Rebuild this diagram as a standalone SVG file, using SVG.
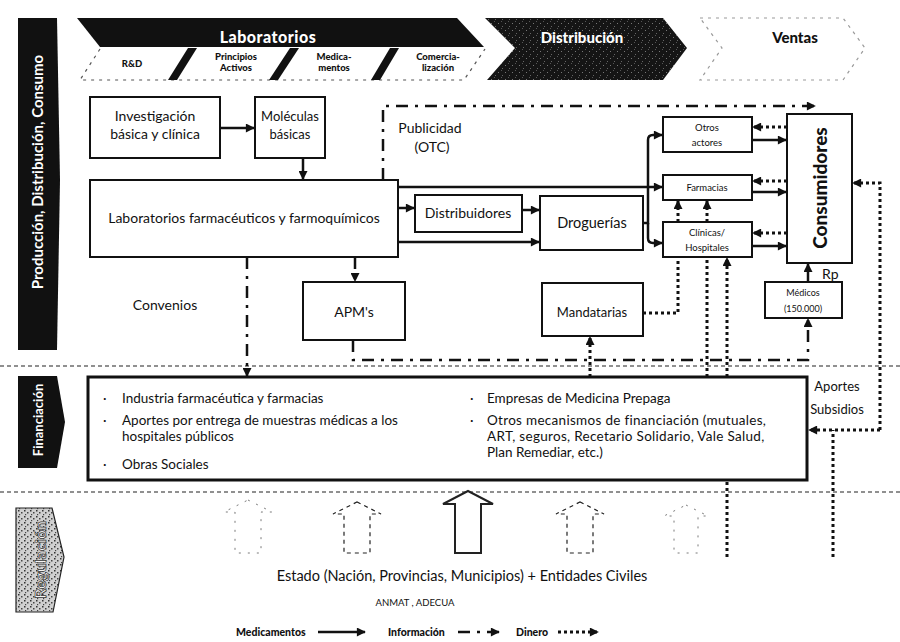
<svg xmlns="http://www.w3.org/2000/svg" width="900" height="642" viewBox="0 0 900 642">
  <defs>
    <style>
      text { font-family: Lato, "Open Sans", "DejaVu Sans", sans-serif; fill: #111; }
      .box { fill: #fff; stroke: #111; stroke-width: 2; }
      .t13 { font-size: 14px; text-anchor: middle; }
      .t12 { font-size: 13.5px; }
      .t9 { font-size: 9.5px; text-anchor: middle; }
      .hdr { font-weight: 900; }
      .sub { font-size: 9.5px; font-weight: 900; text-anchor: middle; }
      .side { font-size: 13px; font-weight: 700; fill: #fff; text-anchor: middle; }
      .med { fill: none; stroke: #111; stroke-width: 2.5; }
      .info { fill: none; stroke: #111; stroke-width: 2.5; stroke-dasharray: 12 7 3 7; }
      .din { fill: none; stroke: #111; stroke-width: 3; stroke-dasharray: 3 3; }
      .sep { fill: none; stroke: #222; stroke-width: 1.2; stroke-dasharray: 4 3; }
      .ghost { fill: none; stroke: #555; stroke-width: 1.2; stroke-dasharray: 3 5; }
      .up { fill: none; stroke: #222; }
    </style>
    <marker id="ah" viewBox="0 0 10 10" refX="9" refY="5" markerWidth="10" markerHeight="9" markerUnits="userSpaceOnUse" orient="auto">
      <path d="M0,0 L10,5 L0,10 Z" fill="#111"/>
    </marker>
    <pattern id="grain" width="7" height="7" patternUnits="userSpaceOnUse">
      <rect width="7" height="7" fill="#151515"/>
      <rect x="1" y="2" width="1" height="1" fill="#777"/>
      <rect x="5" y="5" width="1" height="1" fill="#666"/>
      <rect x="4" y="0" width="1" height="1" fill="#555"/>
    </pattern>
    <pattern id="stipple" width="6" height="6" patternUnits="userSpaceOnUse">
      <rect width="6" height="6" fill="#d0d0d0"/>
      <rect x="0" y="0" width="1.5" height="1.5" fill="#333"/>
      <rect x="3" y="2" width="1.5" height="1.5" fill="#444"/>
      <rect x="1" y="4" width="1.2" height="1.2" fill="#444"/>
    </pattern>
  </defs>

  <rect width="900" height="642" fill="#fff"/>

  <!-- value chain header -->
  <g id="chain-laboratorios">
    <polygon points="77,18 457,18 484,47 100,47" fill="#111"/>
    <polyline points="100,49 80,80 464,80 485,49" class="ghost"/>
    <polygon points="188,48 197,48 177,80 168,80" fill="#111"/>
    <polygon points="290,48 299,48 278,80 269,80" fill="#111"/>
    <polygon points="390,48 399,48 380,80 371,80" fill="#111"/>
    <text x="268" y="43" class="hdr" font-size="16" text-anchor="middle" style="fill:#fff;letter-spacing:0.5px">Laboratorios</text>
    <text x="132" y="67" class="sub">R&amp;D</text>
    <text x="236" y="60" class="sub">Principios</text>
    <text x="236" y="71" class="sub">Activos</text>
    <text x="334" y="60" class="sub">Medica-</text>
    <text x="334" y="71" class="sub">mentos</text>
    <text x="438" y="60" class="sub">Comercia-</text>
    <text x="438" y="71" class="sub">lización</text>
  </g>
  <g id="chain-distribucion">
    <polygon points="485,18 663,18 687,48 663,80 487,80 515,48" fill="url(#grain)"/>
    <text x="582" y="43" class="hdr" font-size="15" text-anchor="middle" style="fill:#fff">Distribución</text>
  </g>
  <g id="chain-ventas">
    <polygon points="700,18 843,18 865,48 843,80 700,80 722,48" class="ghost" style="stroke:#999"/>
    <text x="795" y="43" class="hdr" font-size="15" text-anchor="middle">Ventas</text>
  </g>

  <!-- side bands -->
  <g id="band-produccion">
    <polygon points="18,18 57,18 60,180 57,350 18,350" fill="#111"/>
    <text transform="translate(43,172) rotate(-90)" class="side" style="font-size:15px">Producción, Distribución, Consumo</text>
  </g>
  <g id="band-financiacion">
    <polygon points="18,376 57,376 65,422 57,468 18,468" fill="#111"/>
    <text transform="translate(43,420) rotate(-90)" class="side">Financiación</text>
  </g>
  <g id="band-regulacion">
    <polygon points="16,508 52,508 64,557 53,612 16,612" fill="url(#stipple)" stroke="#222" stroke-width="1.2"/>
    <text transform="translate(46,560) rotate(-90)" class="side" style="fill:#f4f4f4;stroke:#333;stroke-width:0.7;font-size:16px">Regulación</text>
  </g>

  <!-- section separators -->
  <line x1="0" y1="366" x2="900" y2="366" class="sep"/>
  <line x1="0" y1="492" x2="900" y2="492" class="sep"/>

  <!-- connectors -->
  <g id="connectors">
    <!-- Medicamentos -->
    <path d="M220,128 H254" class="med" marker-end="url(#ah)"/>
    <path d="M303,158 V179" class="med" marker-end="url(#ah)"/>
    <path d="M398,187 H662" class="med" marker-end="url(#ah)"/>
    <path d="M398,208 H414" class="med" marker-end="url(#ah)"/>
    <path d="M398,242 H539" class="med" marker-end="url(#ah)"/>
    <path d="M522,210 H539" class="med" marker-end="url(#ah)"/>
    <path d="M643,223 H648 V140 Q648,135 653,135 H662" class="med" marker-end="url(#ah)"/>
    <path d="M648,223 V238 Q648,243 653,243 H662" class="med" marker-end="url(#ah)"/>
    <path d="M752,140 H786" class="med" marker-end="url(#ah)"/>
    <path d="M752,192 H786" class="med" marker-end="url(#ah)"/>
    <path d="M752,246 H786" class="med" marker-end="url(#ah)"/>
    <path d="M808,282 V264" class="med" marker-end="url(#ah)"/>

    <!-- Información -->
    <path d="M383,180 V106 H815" class="info" marker-end="url(#ah)"/>
    <path d="M247,257 V376" class="info" marker-end="url(#ah)"/>
    <path d="M355,257 V281" class="info" marker-end="url(#ah)"/>
    <path d="M353,340 V360 H808 V319" class="info" marker-end="url(#ah)"/>

    <!-- Dinero -->
    <path d="M787,127 H753" class="din" marker-end="url(#ah)"/>
    <path d="M787,181 H753" class="din" marker-end="url(#ah)"/>
    <path d="M787,233 H753" class="din" marker-end="url(#ah)"/>
    <path d="M678,222 V201" class="din" marker-end="url(#ah)"/>
    <path d="M707,222 V201" class="din" marker-end="url(#ah)"/>
    <path d="M707,377 V257" class="din"/>
    <path d="M643,313 H678 V257" class="din"/>
    <path d="M590,377 V337" class="din" marker-end="url(#ah)"/>
    <path d="M727,557 V258" class="din" marker-end="url(#ah)"/>
    <path d="M880,430 V183 H853" class="din" marker-end="url(#ah)"/>
    <path d="M880,430 H809" class="din" marker-end="url(#ah)"/>
    <path d="M833,557 V430" class="din"/>
  </g>

  <!-- nodes -->
  <g id="investigacion">
    <rect x="90" y="97" width="130" height="61" class="box"/>
    <text x="155" y="121" class="t13">Investigación</text>
    <text x="155" y="139" class="t13">básica y clínica</text>
  </g>
  <g id="moleculas">
    <rect x="255" y="97" width="70" height="61" class="box"/>
    <text x="290" y="121" class="t13" style="font-size:13px">Moléculas</text>
    <text x="290" y="139" class="t13" style="font-size:13px">básicas</text>
  </g>
  <g id="laboratorios">
    <rect x="90" y="180" width="308" height="77" class="box"/>
    <text x="244" y="223" class="t13">Laboratorios farmacéuticos y farmoquímicos</text>
  </g>
  <g id="publicidad">
    <text x="430" y="133" class="t13">Publicidad</text>
    <text x="432" y="152" class="t13">(OTC)</text>
  </g>
  <g id="distribuidores">
    <rect x="415" y="195" width="107" height="37" class="box"/>
    <text x="468" y="218" class="t13">Distribuidores</text>
  </g>
  <g id="droguerias">
    <rect x="540" y="196" width="103" height="54" class="box"/>
    <text x="592" y="228" class="t13" style="font-size:14.5px">Droguerías</text>
  </g>
  <g id="otros-actores">
    <rect x="663" y="117" width="89" height="35" class="box"/>
    <text x="707" y="131" class="t9">Otros</text>
    <text x="707" y="146" class="t9">actores</text>
  </g>
  <g id="farmacias">
    <rect x="663" y="175" width="89" height="25" class="box"/>
    <text x="707" y="191" class="t9">Farmacias</text>
  </g>
  <g id="clinicas">
    <rect x="663" y="222" width="89" height="35" class="box"/>
    <text x="707" y="236" class="t9">Clínicas/</text>
    <text x="707" y="251" class="t9">Hospitales</text>
  </g>
  <g id="consumidores">
    <rect x="787" y="114" width="65" height="149" class="box"/>
    <text transform="translate(827,188) rotate(-90)" class="hdr" font-size="19" text-anchor="middle">Consumidores</text>
  </g>
  <g id="convenios">
    <text x="165" y="310" class="t13">Convenios</text>
  </g>
  <g id="apms">
    <rect x="303" y="282" width="102" height="58" class="box"/>
    <text x="354" y="317" class="t13">APM's</text>
  </g>
  <g id="mandatarias">
    <rect x="542" y="283" width="101" height="53" class="box"/>
    <text x="592" y="317" class="t13" style="font-size:13px">Mandatarias</text>
  </g>
  <g id="medicos">
    <rect x="765" y="282" width="77" height="36" class="box"/>
    <text x="803" y="296" class="t9" style="font-size:9px">Médicos</text>
    <text x="803" y="312" class="t9" style="font-size:9px">(150.000)</text>
    <text x="822" y="279" class="t13" style="text-anchor:start">Rp</text>
  </g>

  <g id="financiacion">
    <rect x="88" y="377" width="719" height="103" fill="#fff" stroke="#111" stroke-width="3"/>
    <text x="103" y="403" class="t12">·</text>
    <text x="122" y="403" class="t12">Industria farmacéutica y farmacias</text>
    <text x="103" y="425" class="t12">·</text>
    <text x="122" y="425" class="t12">Aportes por entrega de muestras médicas a los</text>
    <text x="122" y="441" class="t12">hospitales públicos</text>
    <text x="103" y="469" class="t12">·</text>
    <text x="122" y="469" class="t12">Obras Sociales</text>
    <text x="470" y="403" class="t12">·</text>
    <text x="487" y="403" class="t12">Empresas de Medicina Prepaga</text>
    <text x="470" y="425" class="t12">·</text>
    <text x="487" y="425" class="t12" style="letter-spacing:0.3px">Otros mecanismos de financiación (mutuales,</text>
    <text x="487" y="441" class="t12" style="letter-spacing:0.3px">ART, seguros, Recetario Solidario, Vale Salud,</text>
    <text x="487" y="457" class="t12">Plan Remediar, etc.)</text>
  </g>
  <g id="aportes">
    <text x="837" y="391" class="t13" style="font-size:13px">Aportes</text>
    <text x="837" y="414" class="t13" style="font-size:13px">Subsidios</text>
  </g>

  <!-- regulation layer -->
  <g id="flechas-regulacion">
    <path d="M248,500 L272,512 L261,512 L261,553 L235,553 L235,512 L224,512 Z" class="up" stroke-width="1" stroke-dasharray="2 7" opacity="0.6"/>
    <path d="M357,502 L381,514 L370,514 L370,553 L344,553 L344,514 L333,514 Z" class="up" stroke-width="1.2" stroke-dasharray="4 4"/>
    <path d="M468,491 L493,504 L481,504 L481,553 L455,553 L455,504 L443,504 Z" class="up" stroke-width="2"/>
    <path d="M580,502 L604,514 L593,514 L593,553 L567,553 L567,514 L556,514 Z" class="up" stroke-width="1.2" stroke-dasharray="4 4"/>
    <path d="M686,505 L708,516 L698,516 L698,553 L674,553 L674,516 L664,516 Z" class="up" stroke-width="1" stroke-dasharray="2 7" opacity="0.6"/>
  </g>
  <g id="estado">
    <text x="462" y="581" class="t13" style="font-size:14.5px">Estado (Nación, Provincias, Municipios) + Entidades Civiles</text>
    <text x="415" y="606" class="t9" style="font-size:9.5px">ANMAT , ADECUA</text>
  </g>

  <!-- legend -->
  <g id="leyenda">
    <text x="236" y="636" class="hdr" font-size="10.5">Medicamentos</text>
    <path d="M318,632 H365" class="med" marker-end="url(#ah)"/>
    <text x="388" y="636" class="hdr" font-size="10.5">Información</text>
    <path d="M458,632 H499" class="info" marker-end="url(#ah)"/>
    <text x="516" y="636" class="hdr" font-size="10.5">Dinero</text>
    <path d="M558,632 H598" class="din" marker-end="url(#ah)"/>
  </g>
</svg>
